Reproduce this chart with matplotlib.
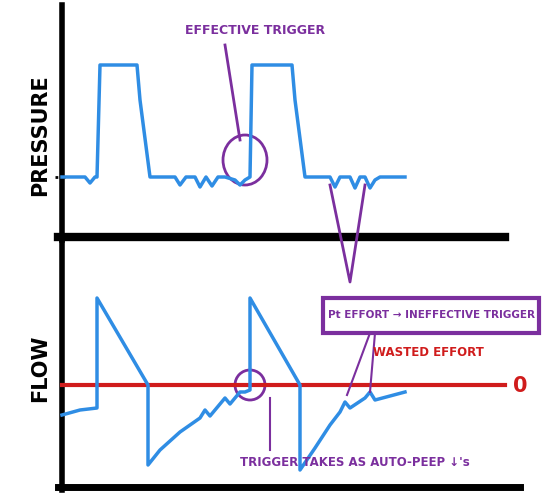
import matplotlib.pyplot as plt
from matplotlib.patches import Ellipse, Rectangle

# Pressure trace (time px, level px in image coords)
p_t = [62, 85, 90, 95, 97, 100, 137, 140, 150, 175, 180, 186, 195, 200, 206, 212, 218, 225, 235, 240, 245, 250, 252, 255, 292, 295, 305, 330, 335, 340, 350, 355, 360, 365, 370, 375, 380, 405]
p_v = [177, 177, 183, 177, 177, 65, 65, 100, 177, 177, 185, 177, 177, 187, 177, 186, 177, 177, 180, 185, 180, 177, 65, 65, 65, 100, 177, 177, 187, 177, 177, 188, 177, 177, 188, 180, 177, 177]
# Flow trace
f_t = [62, 80, 97, 97, 148, 148, 160, 180, 200, 205, 210, 220, 225, 230, 240, 245, 250, 250, 300, 300, 315, 330, 340, 345, 350, 365, 370, 375, 390, 405]
f_v = [415, 410, 408, 298, 385, 465, 450, 432, 418, 410, 416, 404, 398, 404, 392, 392, 390, 298, 385, 470, 448, 425, 412, 402, 408, 398, 392, 400, 396, 392]

W, H = 552, 503
fig = plt.figure(figsize=(W/100, H/100), dpi=100)
ax = fig.add_axes([0, 0, 1, 1])
ax.set_xlim(0, W); ax.set_ylim(H, 0); ax.axis('off')

blue = '#2f8de4'; purple = '#7b2f9e'; red = '#d01c1c'
ax.plot([62, 62], [5, 240], color='k', lw=4)
ax.plot([58, 505], [237, 237], color='k', lw=6)
ax.plot([62, 62], [240, 490], color='k', lw=4)
ax.plot([58, 520], [487, 487], color='k', lw=5)
ax.plot([62, 505], [385, 385], color=red, lw=3)
ax.text(520, 386, '0', color=red, fontsize=15, fontweight='bold', ha='center', va='center')
ax.plot([55, 65], [177, 177], color='k', lw=2, ls=':')

ax.plot(p_t, p_v, color=blue, lw=2.5)
ax.plot(f_t, f_v, color=blue, lw=2.5)

ax.text(40, 135, 'PRESSURE', rotation=90, fontsize=15, fontweight='bold', ha='center', va='center')
ax.text(40, 368, 'FLOW', rotation=90, fontsize=15, fontweight='bold', ha='center', va='center')

ax.text(255, 30, 'EFFECTIVE TRIGGER', color=purple, fontsize=9, fontweight='bold', ha='center', va='center')
ax.plot([225, 240], [45, 140], color=purple, lw=2)
ax.add_patch(Ellipse((245, 160), 44, 50, fill=False, ec=purple, lw=2))
ax.plot([330, 350, 365], [185, 282, 185], color=purple, lw=2)
ax.add_patch(Rectangle((323, 298), 216, 35, fill=False, ec=purple, lw=3))
ax.text(431, 315, 'Pt EFFORT → INEFFECTIVE TRIGGER', color=purple, fontsize=7.5, fontweight='bold', ha='center', va='center')
ax.plot([370, 347], [333, 395], color=purple, lw=1.5)
ax.plot([375, 370], [333, 392], color=purple, lw=1.5)
ax.text(428, 352, 'WASTED EFFORT', color=red, fontsize=8.5, fontweight='bold', ha='center', va='center')
ax.add_patch(Ellipse((250, 385), 30, 30, fill=False, ec=purple, lw=2))
ax.plot([270, 270], [398, 450], color=purple, lw=1.5)
ax.text(355, 463, "TRIGGER TAKES AS AUTO-PEEP ↓'s", color=purple, fontsize=8.5, fontweight='bold', ha='center', va='center')

fig.savefig('out.png', dpi=100)
